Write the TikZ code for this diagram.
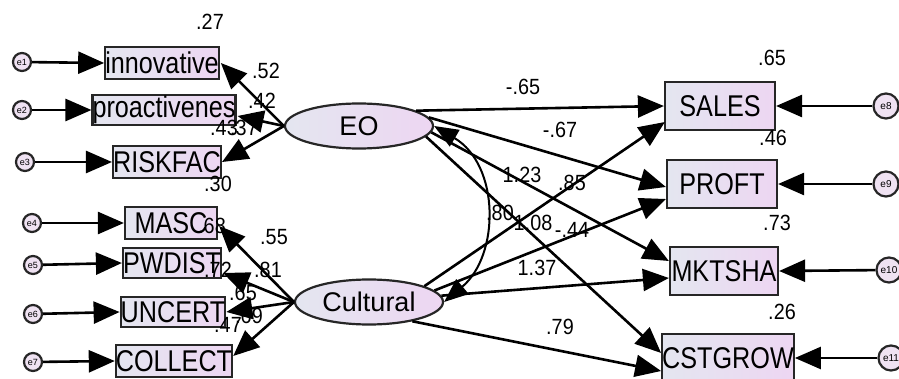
\documentclass[tikz,border=0pt]{standalone}
\usepackage{fontspec}
\setmainfont{Liberation Sans}
\newfontfamily\boxfont[FakeStretch=0.84]{Liberation Sans}
\newfontfamily\numfont[FakeStretch=0.9]{Liberation Sans}
\usetikzlibrary{arrows.meta,calc,shapes.geometric}
\definecolor{fl}{HTML}{E4E6F0}
\definecolor{fr}{HTML}{EDD6F2}
\definecolor{ef}{HTML}{EFE2F2}
\definecolor{bd}{HTML}{262626}
\begin{document}
\begin{tikzpicture}[x=1pt,y=-1pt,
 obs/.style={draw=bd,line width=2.2pt,left color=fl,right color=fr,minimum width=92pt,minimum height=32pt,inner sep=0pt,font=\boxfont\fontsize{30}{30}\selectfont},
 obsR/.style={obs,minimum width=110pt,minimum height=48pt},
 lat/.style={ellipse,draw=bd,line width=2.2pt,left color=fl,right color=fr,minimum width=148pt,minimum height=45pt,inner sep=0pt,font=\fontsize{27}{27}\selectfont},
 err/.style={circle,draw=bd,line width=2.2pt,fill=ef,minimum size=18pt,inner sep=0pt,font=\fontsize{9}{9}\selectfont},
 errR/.style={err,minimum size=25pt,font=\fontsize{10}{10}\selectfont},
 num/.style={font=\numfont\fontsize{22}{22}\selectfont,inner sep=0pt},
 arr/.style={draw=black,line width=2.6pt,-{Triangle[length=26pt,width=22pt]}},
 cov/.style={draw=black,line width=2pt,{Triangle[length=24pt,width=19pt]}-{Triangle[length=24pt,width=19pt]}},
 ]
\useasboundingbox[fill=white] (0,0) rectangle (899,379);
% observed left
\node[obs] (innovative) at (162,63) {innovative};
\node[obs,minimum height=30pt] (proactivenes) at (164,110) {proactivenes};
\node[obs] (RISKFAC) at (167,162) {RISKFAC};
\node[obs] (MASC) at (171,223) {MASC};
\node[obs,minimum height=30pt] (PWDIST) at (172,263) {PWDIST};
\node[obs,minimum height=30pt] (UNCERT) at (173,312) {UNCERT};
\node[obs] (COLLECT) at (174,361) {COLLECT};
% latent
\node[lat] (EO) at (359,126) {EO};
\node[lat] (Cultural) at (369,302) {Cultural};
% observed right
\node[obsR] (SALES) at (720,106) {SALES};
\node[obsR] (PROFT) at (722,184) {PROFT};
\node[obsR,minimum width=108pt] (MKTSHA) at (724,271) {MKTSHA};
\node[obsR] (CSTGROW) at (728,358) {CSTGROW};
% errors
\node[err] (e1) at (22,62) {e1};
\node[err] (e2) at (22,110) {e2};
\node[err] (e3) at (25,162) {e3};
\node[err] (e4) at (32,223) {e4};
\node[err] (e5) at (33,265) {e5};
\node[err] (e6) at (33,314) {e6};
\node[err] (e7) at (33,362) {e7};
\node[errR] (e8) at (886,106) {e8};
\node[errR] (e9) at (886,184) {e9};
\node[errR] (e10) at (889,270) {e10};
\node[errR] (e11) at (891,358) {e11};
% labels
\node[num] (l1) at (210,22) {.27};
\node[num] (l2) at (266,71) {.52};
\node[num] (l3) at (262,101) {.42};
\node[num] (l4) at (224,128) {.43};
\node[num] (l5) at (244,128) {.37};
\node[num] (l6) at (218,184) {.30};
\node[num] (l7) at (212,226) {.68};
\node[num] (l8) at (274,237) {.55};
\node[num] (l9) at (218,270) {.72};
\node[num] (l10) at (268,270) {.81};
\node[num] (l11) at (243,293) {.65};
\node[num] (l12) at (228,325) {.47};
\node[num] (l13) at (249,316) {.69};
\node[num] (l14) at (523,87) {-.65};
\node[num] (l15) at (560,130) {-.67};
\node[num] (l16) at (522,175) {1.23};
\node[num] (l17) at (572,183) {.85};
\node[num] (l18) at (500,213) {.80};
\node[num] (l19) at (533,223) {1.08};
\node[num] (l20) at (572,230) {-.44};
\node[num] (l21) at (537,268) {1.37};
\node[num] (l22) at (560,327) {.79};
\node[num] (l23) at (772,58) {.65};
\node[num] (l24) at (773,138) {.46};
\node[num] (l25) at (777,223) {.73};
\node[num] (l26) at (782,312) {.26};
% error arrows
\draw[arr] (e1) -- (innovative.west);
\draw[arr] (e2) -- (proactivenes.west);
\draw[arr] (e3) -- (RISKFAC.west);
\draw[arr] (e4) -- (MASC.west);
\draw[arr] (e5) -- (PWDIST.west);
\draw[arr] (e6) -- (UNCERT.west);
\draw[arr] (e7) -- (COLLECT.west);
\draw[arr] (e8) -- (SALES.east);
\draw[arr] (e9) -- (PROFT.east);
\draw[arr] (e10) -- (MKTSHA.east);
\draw[arr] (e11) -- (CSTGROW.east);
% loadings
\draw[arr] (EO.west) -- ($(innovative.east)+(1,0)$);
\draw[arr] (EO.west) -- ($(proactivenes.east)+(1,6)$);
\draw[arr] (EO.west) -- (RISKFAC.east);
\draw[arr] (Cultural.west) -- ($(MASC.east)+(1,3)$);
\draw[arr] (Cultural.west) -- ($(PWDIST.east)+(1,10)$);
\draw[arr] (Cultural.west) -- (UNCERT.east);
\draw[arr] (Cultural.west) -- ($(COLLECT.east)+(0,-5)$);
% structural
\draw[arr] (EO.15) -- (SALES.west);
\draw[arr] (EO.7) -- ($(PROFT.west)+(0,3)$);
\draw[arr] (EO.-5) -- ($(MKTSHA.west)+(0,-10)$);
\draw[arr] (EO.-9) -- ($(CSTGROW.west)+(0,-5)$);
\draw[arr] (Cultural.16) -- ($(SALES.west)+(1,16)$);
\draw[arr] (Cultural.10) -- ($(PROFT.west)+(0,15)$);
\draw[arr] (Cultural.5) -- ($(MKTSHA.west)+(0,7)$);
\draw[arr] (Cultural.-24) -- ($(CSTGROW.west)+(0,13)$);
% covariance
\draw[cov] (EO.east) .. controls (500,165) and (500,255) .. (Cultural.east);
\end{tikzpicture}
\end{document}
